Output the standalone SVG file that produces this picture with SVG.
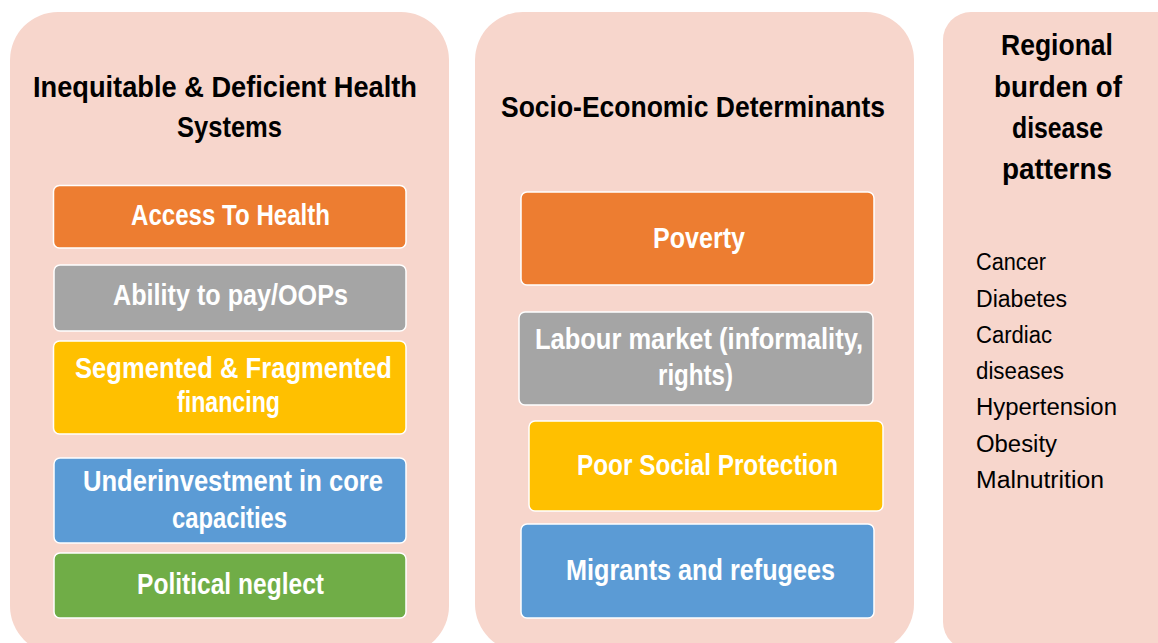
<svg xmlns="http://www.w3.org/2000/svg" width="1158" height="643" viewBox="0 0 1158 643">
  <style>
    .panel { fill: #F7D6CC; }
    .box { stroke: #FFFFFF; stroke-width: 1.5; }
    .orange { fill: #ED7D31; }
    .gray { fill: #A5A5A5; }
    .yellow { fill: #FFC000; }
    .blue { fill: #5B9BD5; }
    .green { fill: #70AD47; }
    .title { font-family: "Liberation Sans", Arial, sans-serif; font-weight: bold; font-size: 29px; fill: #000000; }
    .label { font-family: "Liberation Sans", Arial, sans-serif; font-weight: bold; font-size: 29px; fill: #FFFFFF; }
    .item { font-family: "Liberation Sans", Arial, sans-serif; font-size: 23px; fill: #000000; }
  </style>
  <rect width="1158" height="643" fill="#FFFFFF"/>

  <!-- Column 1: health systems -->
  <g id="health-systems">
    <rect class="panel" x="10" y="12" width="439" height="642" rx="48" ry="48"/>
    <text class="title" x="33" y="97" textLength="384" lengthAdjust="spacingAndGlyphs">Inequitable &amp; Deficient Health</text>
    <text class="title" x="177" y="137" textLength="105" lengthAdjust="spacingAndGlyphs">Systems</text>
  </g>
  <g id="access-to-health">
    <rect class="box orange" x="53.5" y="185.5" width="352.5" height="62.5" rx="6"/>
    <text class="label" x="131" y="225" textLength="199" lengthAdjust="spacingAndGlyphs">Access To Health</text>
  </g>
  <g id="ability-to-pay">
    <rect class="box gray" x="54" y="265" width="352" height="66" rx="6"/>
    <text class="label" x="113" y="305" textLength="235" lengthAdjust="spacingAndGlyphs">Ability to pay/OOPs</text>
  </g>
  <g id="segmented-financing">
    <rect class="box yellow" x="53.5" y="341" width="352.5" height="93" rx="6"/>
    <text class="label" x="75" y="378" textLength="317" lengthAdjust="spacingAndGlyphs">Segmented &amp; Fragmented</text>
    <text class="label" x="177" y="412" textLength="103" lengthAdjust="spacingAndGlyphs">financing</text>
  </g>
  <g id="underinvestment">
    <rect class="box blue" x="54" y="458" width="352" height="85" rx="6"/>
    <text class="label" x="83" y="491" textLength="300" lengthAdjust="spacingAndGlyphs">Underinvestment in core</text>
    <text class="label" x="172" y="528" textLength="115" lengthAdjust="spacingAndGlyphs">capacities</text>
  </g>
  <g id="political-neglect">
    <rect class="box green" x="54" y="553" width="352" height="65" rx="6"/>
    <text class="label" x="137" y="594" textLength="187" lengthAdjust="spacingAndGlyphs">Political neglect</text>
  </g>

  <!-- Column 2: socio-economic determinants -->
  <g id="socio-economic">
    <rect class="panel" x="475" y="12" width="439" height="640" rx="48" ry="48"/>
    <text class="title" x="501" y="117" textLength="384" lengthAdjust="spacingAndGlyphs">Socio-Economic Determinants</text>
  </g>
  <g id="poverty">
    <rect class="box orange" x="521" y="192" width="353" height="93" rx="6"/>
    <text class="label" x="653" y="248" textLength="92" lengthAdjust="spacingAndGlyphs">Poverty</text>
  </g>
  <g id="labour-market">
    <rect class="box gray" x="519" y="312" width="354" height="93" rx="6"/>
    <text class="label" x="535" y="349" textLength="328" lengthAdjust="spacingAndGlyphs">Labour market (informality,</text>
    <text class="label" x="658" y="385" textLength="75" lengthAdjust="spacingAndGlyphs">rights)</text>
  </g>
  <g id="social-protection">
    <rect class="box yellow" x="529" y="421" width="354" height="90" rx="6"/>
    <text class="label" x="577" y="475" textLength="261" lengthAdjust="spacingAndGlyphs">Poor Social Protection</text>
  </g>
  <g id="migrants">
    <rect class="box blue" x="521" y="524" width="353" height="94" rx="6"/>
    <text class="label" x="566" y="580" textLength="269" lengthAdjust="spacingAndGlyphs">Migrants and refugees</text>
  </g>

  <!-- Column 3: disease burden -->
  <g id="disease-burden">
    <rect class="panel" x="943" y="12" width="260" height="638" rx="28" ry="28"/>
    <text class="title" x="1001" y="55" textLength="112" lengthAdjust="spacingAndGlyphs">Regional</text>
    <text class="title" x="994" y="97" textLength="128" lengthAdjust="spacingAndGlyphs">burden of</text>
    <text class="title" x="1012" y="138" textLength="91" lengthAdjust="spacingAndGlyphs">disease</text>
    <text class="title" x="1002" y="179" textLength="110" lengthAdjust="spacingAndGlyphs">patterns</text>
    <text class="item" x="976" y="270" textLength="70" lengthAdjust="spacingAndGlyphs">Cancer</text>
    <text class="item" x="976" y="307" textLength="91" lengthAdjust="spacingAndGlyphs">Diabetes</text>
    <text class="item" x="976" y="343" textLength="76" lengthAdjust="spacingAndGlyphs">Cardiac</text>
    <text class="item" x="976" y="379" textLength="88" lengthAdjust="spacingAndGlyphs">diseases</text>
    <text class="item" x="976" y="415" textLength="141" lengthAdjust="spacingAndGlyphs">Hypertension</text>
    <text class="item" x="976" y="452" textLength="81" lengthAdjust="spacingAndGlyphs">Obesity</text>
    <text class="item" x="976" y="488" textLength="128" lengthAdjust="spacingAndGlyphs">Malnutrition</text>
  </g>
</svg>
